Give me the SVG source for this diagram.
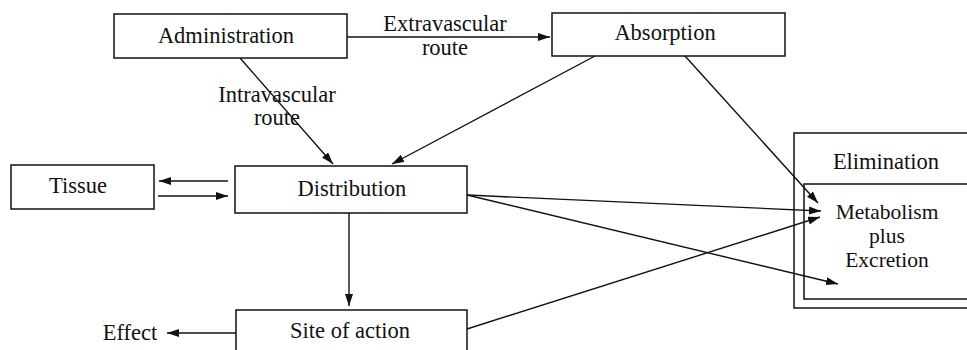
<svg xmlns="http://www.w3.org/2000/svg" width="967" height="350" viewBox="0 0 967 350">
<style>
.box{fill:#fff;stroke:#111;stroke-width:1.5}
.t{font-family:"Liberation Serif","Times New Roman",serif;font-size:22.5px;fill:#111;text-anchor:middle}
.s{font-size:21.5px}
.c{stroke:#111;stroke-width:1.4;fill:none;marker-end:url(#ah)}
</style>
<defs>
<marker id="ah" markerUnits="userSpaceOnUse" markerWidth="14" markerHeight="10" refX="12" refY="4" orient="auto">
<path d="M0,0 L12,4 L0,8 Z" fill="#111"/>
</marker>
</defs>
<rect width="967" height="350" fill="#fff"/>
<g id="connectors">
<line class="c" x1="347" y1="37" x2="550" y2="37"/>
<line class="c" x1="240" y1="58" x2="333" y2="164"/>
<line class="c" x1="595" y1="56" x2="392" y2="164"/>
<line class="c" x1="685" y1="56" x2="818" y2="203"/>
<line class="c" x1="228" y1="181" x2="159" y2="181"/>
<line class="c" x1="158" y1="196" x2="228" y2="196"/>
<line class="c" x1="349" y1="213" x2="349" y2="306"/>
<line class="c" x1="236" y1="333" x2="167" y2="333"/>
<line class="c" x1="467" y1="195" x2="821" y2="211"/>
<line class="c" x1="467" y1="195" x2="838" y2="284"/>
<line class="c" x1="467" y1="329" x2="820" y2="217"/>
</g>
<g id="administration">
<rect class="box" x="114" y="14" width="233" height="44"/>
<text class="t" x="226" y="43">Administration</text>
</g>
<g id="absorption">
<rect class="box" x="552" y="13" width="233" height="43"/>
<text class="t" x="665" y="40">Absorption</text>
</g>
<g id="labels">
<text class="t" x="445" y="31">Extravascular</text>
<text class="t" x="445" y="55">route</text>
<text class="t" x="277" y="102">Intravascular</text>
<text class="t" x="277" y="125">route</text>
<text class="t" x="130" y="340">Effect</text>
</g>
<g id="tissue">
<rect class="box" x="11" y="165" width="143" height="44"/>
<text class="t" x="78" y="193">Tissue</text>
</g>
<g id="distribution">
<rect class="box" x="235" y="166" width="232" height="47"/>
<text class="t" x="352" y="196">Distribution</text>
</g>
<g id="site-of-action">
<rect class="box" x="236" y="310" width="231" height="60"/>
<text class="t" x="350" y="338">Site of action</text>
</g>
<g id="elimination">
<rect class="box" x="794" y="133" width="190" height="175" style="fill:none"/>
<text class="t" x="886" y="169">Elimination</text>
<rect class="box" x="804" y="184" width="180" height="115" style="fill:none"/>
<text class="t s" x="887" y="219">Metabolism</text>
<text class="t s" x="887" y="243">plus</text>
<text class="t s" x="887" y="267">Excretion</text>
</g>
</svg>
